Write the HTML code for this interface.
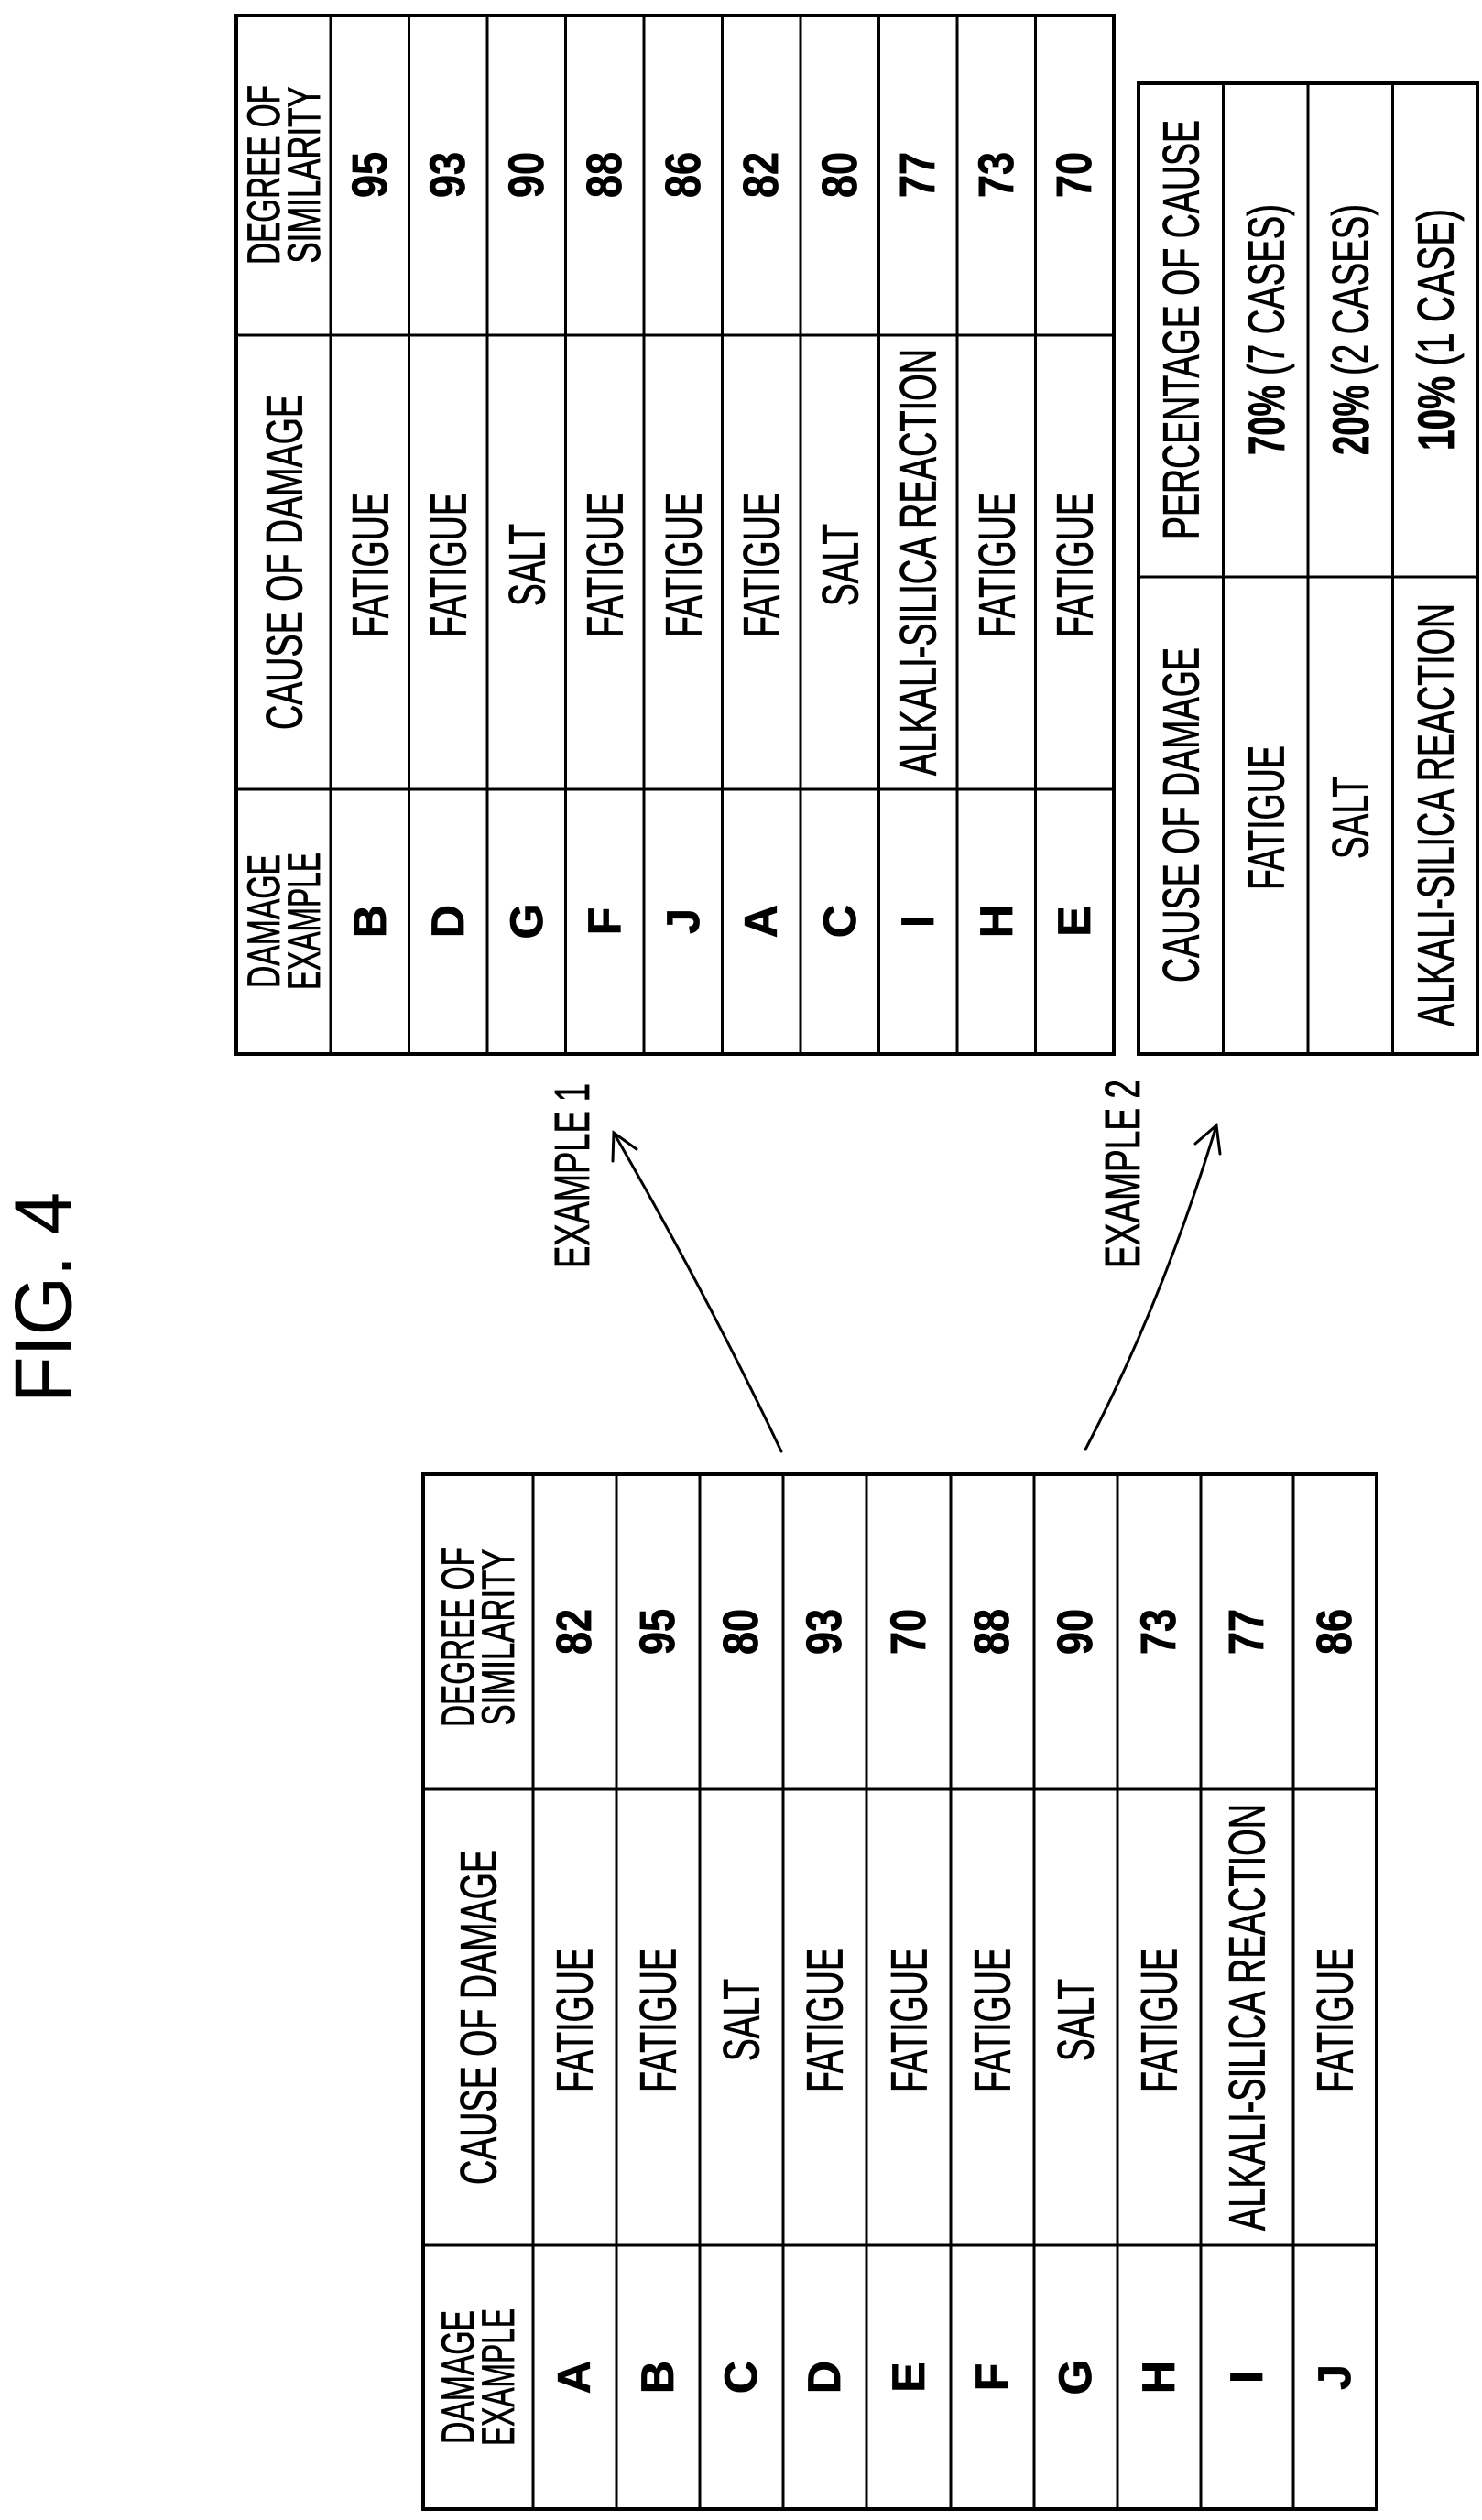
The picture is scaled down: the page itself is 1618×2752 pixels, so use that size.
<!DOCTYPE html>
<html><head><meta charset="utf-8"><style>
html,body{margin:0;padding:0;background:#fff;}
svg{display:block;}
text{font-family:"Liberation Sans",sans-serif;fill:#000;stroke:#000;stroke-width:0.8;}
</style></head><body>
<svg width="1618" height="2752" viewBox="0 0 1618 2752" xmlns="http://www.w3.org/2000/svg">
<g stroke="#000" fill="none">
<rect x="462" y="1610" width="1041" height="1130" stroke-width="4"/>
<g stroke-width="3">
<line x1="582" y1="1610" x2="582" y2="2740"/><line x1="673" y1="1610" x2="673" y2="2740"/><line x1="764" y1="1610" x2="764" y2="2740"/><line x1="855" y1="1610" x2="855" y2="2740"/><line x1="946" y1="1610" x2="946" y2="2740"/><line x1="1038" y1="1610" x2="1038" y2="2740"/><line x1="1129" y1="1610" x2="1129" y2="2740"/><line x1="1220" y1="1610" x2="1220" y2="2740"/><line x1="1311" y1="1610" x2="1311" y2="2740"/><line x1="1412" y1="1610" x2="1412" y2="2740"/>
<line x1="462" y1="1954" x2="1503" y2="1954"/><line x1="462" y1="2452" x2="1503" y2="2452"/>
</g>
<rect x="258" y="17" width="958" height="1134" stroke-width="4"/>
<g stroke-width="3">
<line x1="361" y1="17" x2="361" y2="1151"/><line x1="446.5" y1="17" x2="446.5" y2="1151"/><line x1="532" y1="17" x2="532" y2="1151"/><line x1="617.5" y1="17" x2="617.5" y2="1151"/><line x1="703" y1="17" x2="703" y2="1151"/><line x1="788.5" y1="17" x2="788.5" y2="1151"/><line x1="874" y1="17" x2="874" y2="1151"/><line x1="959.5" y1="17" x2="959.5" y2="1151"/><line x1="1045" y1="17" x2="1045" y2="1151"/><line x1="1130.5" y1="17" x2="1130.5" y2="1151"/>
<line x1="258" y1="366" x2="1216" y2="366"/><line x1="258" y1="862" x2="1216" y2="862"/>
</g>
<rect x="1243" y="91" width="370" height="1060" stroke-width="4"/>
<g stroke-width="3">
<line x1="1335.5" y1="91" x2="1335.5" y2="1151"/><line x1="1428" y1="91" x2="1428" y2="1151"/><line x1="1520.5" y1="91" x2="1520.5" y2="1151"/>
<line x1="1243" y1="630" x2="1613" y2="630"/>
</g>
<g stroke-width="3" stroke-linecap="round">
<path d="M853 1585 Q 775 1420 670 1237"/>
<path d="M669 1268 L670 1237 L695 1255"/>
<path d="M1185 1583 Q 1270 1420 1328 1229"/>
<path d="M1305 1249 L1328 1229 L1332 1260"/>
</g>
</g>

<text x="47" y="1417" transform="rotate(-90 47 1417)" text-anchor="middle" dominant-baseline="central" font-size="88" textLength="230" lengthAdjust="spacingAndGlyphs" style="stroke-width:0">FIG. 4</text>
<text x="625" y="1284" transform="rotate(-90 625 1284)" text-anchor="middle" dominant-baseline="central" font-size="54" textLength="202" lengthAdjust="spacingAndGlyphs">EXAMPLE 1</text>
<text x="1226" y="1282" transform="rotate(-90 1226 1282)" text-anchor="middle" dominant-baseline="central" font-size="54" textLength="206" lengthAdjust="spacingAndGlyphs">EXAMPLE 2</text>

<g text-anchor="middle" dominant-baseline="central">
<text x="500" y="2596" transform="rotate(-90 500 2596)" font-size="50" textLength="146" lengthAdjust="spacingAndGlyphs">DAMAGE</text>
<text x="544" y="2596" transform="rotate(-90 544 2596)" font-size="50" textLength="150" lengthAdjust="spacingAndGlyphs">EXAMPLE</text>
<text x="522" y="2203" transform="rotate(-90 522 2203)" font-size="56" textLength="366" lengthAdjust="spacingAndGlyphs">CAUSE OF DAMAGE</text>
<text x="500" y="1788" transform="rotate(-90 500 1788)" font-size="50" textLength="196" lengthAdjust="spacingAndGlyphs">DEGREE OF</text>
<text x="544" y="1788" transform="rotate(-90 544 1788)" font-size="50" textLength="193" lengthAdjust="spacingAndGlyphs">SIMILARITY</text>
</g>

<g font-size="56" text-anchor="middle" dominant-baseline="central">
<g font-weight="bold" font-size="50" style="stroke-width:0">
<text x="627" y="2596" transform="rotate(-90 627 2596)">A</text>
<text x="718" y="2596" transform="rotate(-90 718 2596)">B</text>
<text x="809" y="2596" transform="rotate(-90 809 2596)">C</text>
<text x="900" y="2596" transform="rotate(-90 900 2596)">D</text>
<text x="992" y="2596" transform="rotate(-90 992 2596)">E</text>
<text x="1083" y="2596" transform="rotate(-90 1083 2596)">F</text>
<text x="1174" y="2596" transform="rotate(-90 1174 2596)">G</text>
<text x="1265" y="2596" transform="rotate(-90 1265 2596)">H</text>
<text x="1361" y="2596" transform="rotate(-90 1361 2596)">I</text>
<text x="1457" y="2596" transform="rotate(-90 1457 2596)">J</text>
</g>
<text x="627" y="2206" transform="rotate(-90 627 2206)" textLength="158" lengthAdjust="spacingAndGlyphs">FATIGUE</text>
<text x="718" y="2206" transform="rotate(-90 718 2206)" textLength="158" lengthAdjust="spacingAndGlyphs">FATIGUE</text>
<text x="809" y="2206" transform="rotate(-90 809 2206)" textLength="90" lengthAdjust="spacingAndGlyphs">SALT</text>
<text x="900" y="2206" transform="rotate(-90 900 2206)" textLength="158" lengthAdjust="spacingAndGlyphs">FATIGUE</text>
<text x="992" y="2206" transform="rotate(-90 992 2206)" textLength="158" lengthAdjust="spacingAndGlyphs">FATIGUE</text>
<text x="1083" y="2206" transform="rotate(-90 1083 2206)" textLength="158" lengthAdjust="spacingAndGlyphs">FATIGUE</text>
<text x="1174" y="2206" transform="rotate(-90 1174 2206)" textLength="90" lengthAdjust="spacingAndGlyphs">SALT</text>
<text x="1265" y="2206" transform="rotate(-90 1265 2206)" textLength="158" lengthAdjust="spacingAndGlyphs">FATIGUE</text>
<text x="1361" y="2203" transform="rotate(-90 1361 2203)" textLength="466" lengthAdjust="spacingAndGlyphs">ALKALI-SILICA REACTION</text>
<text x="1457" y="2206" transform="rotate(-90 1457 2206)" textLength="158" lengthAdjust="spacingAndGlyphs">FATIGUE</text>
<g font-weight="bold" font-size="54" style="stroke-width:0">
<text x="627" y="1782" transform="rotate(-90 627 1782)" textLength="50" lengthAdjust="spacingAndGlyphs">82</text>
<text x="718" y="1782" transform="rotate(-90 718 1782)" textLength="50" lengthAdjust="spacingAndGlyphs">95</text>
<text x="809" y="1782" transform="rotate(-90 809 1782)" textLength="50" lengthAdjust="spacingAndGlyphs">80</text>
<text x="900" y="1782" transform="rotate(-90 900 1782)" textLength="50" lengthAdjust="spacingAndGlyphs">93</text>
<text x="992" y="1782" transform="rotate(-90 992 1782)" textLength="50" lengthAdjust="spacingAndGlyphs">70</text>
<text x="1083" y="1782" transform="rotate(-90 1083 1782)" textLength="50" lengthAdjust="spacingAndGlyphs">88</text>
<text x="1174" y="1782" transform="rotate(-90 1174 1782)" textLength="50" lengthAdjust="spacingAndGlyphs">90</text>
<text x="1265" y="1782" transform="rotate(-90 1265 1782)" textLength="50" lengthAdjust="spacingAndGlyphs">73</text>
<text x="1361" y="1782" transform="rotate(-90 1361 1782)" textLength="50" lengthAdjust="spacingAndGlyphs">77</text>
<text x="1457" y="1782" transform="rotate(-90 1457 1782)" textLength="50" lengthAdjust="spacingAndGlyphs">86</text>
</g>
</g>

<g text-anchor="middle" dominant-baseline="central">
<text x="288" y="1006" transform="rotate(-90 288 1006)" font-size="50" textLength="146" lengthAdjust="spacingAndGlyphs">DAMAGE</text>
<text x="332" y="1006" transform="rotate(-90 332 1006)" font-size="50" textLength="150" lengthAdjust="spacingAndGlyphs">EXAMPLE</text>
<text x="310" y="614" transform="rotate(-90 310 614)" font-size="56" textLength="366" lengthAdjust="spacingAndGlyphs">CAUSE OF DAMAGE</text>
<text x="288" y="191" transform="rotate(-90 288 191)" font-size="50" textLength="196" lengthAdjust="spacingAndGlyphs">DEGREE OF</text>
<text x="332" y="191" transform="rotate(-90 332 191)" font-size="50" textLength="193" lengthAdjust="spacingAndGlyphs">SIMILARITY</text>
</g>

<g font-size="56" text-anchor="middle" dominant-baseline="central">
<g font-weight="bold" font-size="50" style="stroke-width:0">
<text x="404" y="1006" transform="rotate(-90 404 1006)">B</text>
<text x="489" y="1006" transform="rotate(-90 489 1006)">D</text>
<text x="575" y="1006" transform="rotate(-90 575 1006)">G</text>
<text x="660" y="1006" transform="rotate(-90 660 1006)">F</text>
<text x="746" y="1006" transform="rotate(-90 746 1006)">J</text>
<text x="831" y="1006" transform="rotate(-90 831 1006)">A</text>
<text x="917" y="1006" transform="rotate(-90 917 1006)">C</text>
<text x="1002" y="1006" transform="rotate(-90 1002 1006)">I</text>
<text x="1088" y="1006" transform="rotate(-90 1088 1006)">H</text>
<text x="1173" y="1006" transform="rotate(-90 1173 1006)">E</text>
</g>
<text x="404" y="617" transform="rotate(-90 404 617)" textLength="158" lengthAdjust="spacingAndGlyphs">FATIGUE</text>
<text x="489" y="617" transform="rotate(-90 489 617)" textLength="158" lengthAdjust="spacingAndGlyphs">FATIGUE</text>
<text x="575" y="617" transform="rotate(-90 575 617)" textLength="90" lengthAdjust="spacingAndGlyphs">SALT</text>
<text x="660" y="617" transform="rotate(-90 660 617)" textLength="158" lengthAdjust="spacingAndGlyphs">FATIGUE</text>
<text x="746" y="617" transform="rotate(-90 746 617)" textLength="158" lengthAdjust="spacingAndGlyphs">FATIGUE</text>
<text x="831" y="617" transform="rotate(-90 831 617)" textLength="158" lengthAdjust="spacingAndGlyphs">FATIGUE</text>
<text x="917" y="617" transform="rotate(-90 917 617)" textLength="90" lengthAdjust="spacingAndGlyphs">SALT</text>
<text x="1002" y="614" transform="rotate(-90 1002 614)" textLength="466" lengthAdjust="spacingAndGlyphs">ALKALI-SILICA REACTION</text>
<text x="1088" y="617" transform="rotate(-90 1088 617)" textLength="158" lengthAdjust="spacingAndGlyphs">FATIGUE</text>
<text x="1173" y="617" transform="rotate(-90 1173 617)" textLength="158" lengthAdjust="spacingAndGlyphs">FATIGUE</text>
<g font-weight="bold" font-size="54" style="stroke-width:0">
<text x="404" y="191" transform="rotate(-90 404 191)" textLength="50" lengthAdjust="spacingAndGlyphs">95</text>
<text x="489" y="191" transform="rotate(-90 489 191)" textLength="50" lengthAdjust="spacingAndGlyphs">93</text>
<text x="575" y="191" transform="rotate(-90 575 191)" textLength="50" lengthAdjust="spacingAndGlyphs">90</text>
<text x="660" y="191" transform="rotate(-90 660 191)" textLength="50" lengthAdjust="spacingAndGlyphs">88</text>
<text x="746" y="191" transform="rotate(-90 746 191)" textLength="50" lengthAdjust="spacingAndGlyphs">86</text>
<text x="831" y="191" transform="rotate(-90 831 191)" textLength="50" lengthAdjust="spacingAndGlyphs">82</text>
<text x="917" y="191" transform="rotate(-90 917 191)" textLength="50" lengthAdjust="spacingAndGlyphs">80</text>
<text x="1002" y="191" transform="rotate(-90 1002 191)" textLength="50" lengthAdjust="spacingAndGlyphs">77</text>
<text x="1088" y="191" transform="rotate(-90 1088 191)" textLength="50" lengthAdjust="spacingAndGlyphs">73</text>
<text x="1173" y="191" transform="rotate(-90 1173 191)" textLength="50" lengthAdjust="spacingAndGlyphs">70</text>
</g>
</g>

<g font-size="56" text-anchor="middle" dominant-baseline="central">
<text x="1289" y="890" transform="rotate(-90 1289 890)" textLength="366" lengthAdjust="spacingAndGlyphs">CAUSE OF DAMAGE</text>
<text x="1289" y="360" transform="rotate(-90 1289 360)" textLength="458" lengthAdjust="spacingAndGlyphs">PERCENTAGE OF CAUSE</text>
<text x="1382" y="893" transform="rotate(-90 1382 893)" textLength="158" lengthAdjust="spacingAndGlyphs">FATIGUE</text>
<text x="1474" y="893" transform="rotate(-90 1474 893)" textLength="90" lengthAdjust="spacingAndGlyphs">SALT</text>
<text x="1567" y="890" transform="rotate(-90 1567 890)" textLength="462" lengthAdjust="spacingAndGlyphs">ALKALI-SILICA REACTION</text>
<text x="1382" y="360" transform="rotate(-90 1382 360)" textLength="274" lengthAdjust="spacingAndGlyphs"><tspan font-weight="bold">70%</tspan> (7 CASES)</text>
<text x="1474" y="360" transform="rotate(-90 1474 360)" textLength="274" lengthAdjust="spacingAndGlyphs"><tspan font-weight="bold">20%</tspan> (2 CASES)</text>
<text x="1567" y="360" transform="rotate(-90 1567 360)" textLength="264" lengthAdjust="spacingAndGlyphs"><tspan font-weight="bold">10%</tspan> (1 CASE)</text>
</g>
</svg>
</body></html>
